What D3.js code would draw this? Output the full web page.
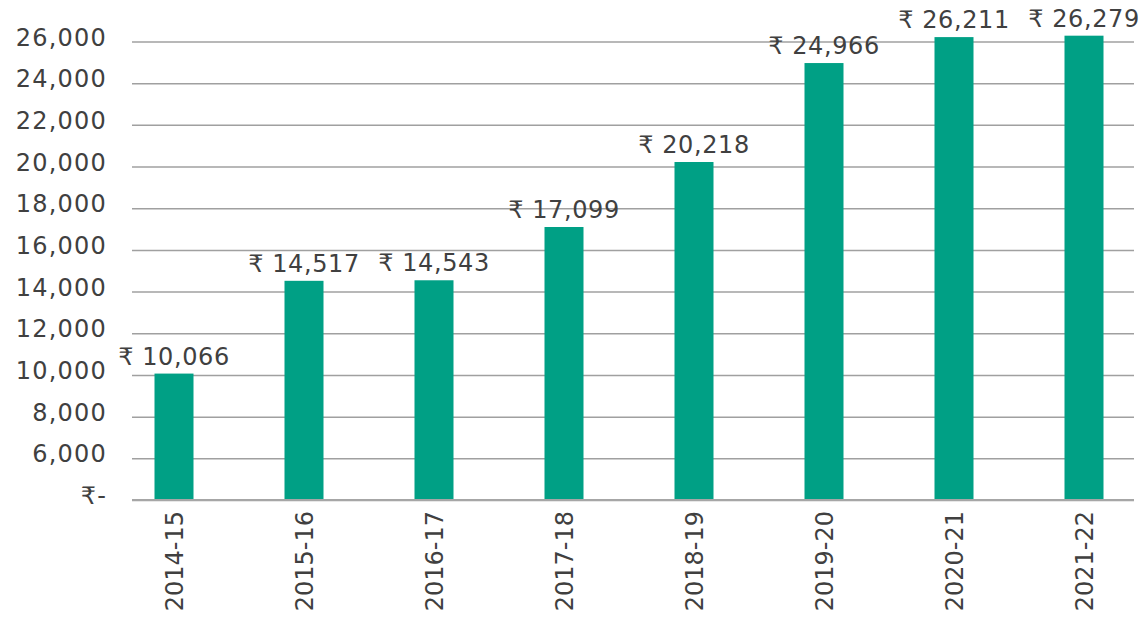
<!DOCTYPE html>
<html>
<head>
<meta charset="utf-8">
<script src="https://cdn.jsdelivr.net/npm/d3@7"></script>
<style>
  body { margin: 0; background: #fff; }
  text { font-family: "DejaVu Sans", "Noto Sans", sans-serif; fill: #404040; }
</style>
</head>
<body>
<svg></svg>
<script>
var years = ["2014-15", "2015-16", "2016-17", "2017-18", "2018-19", "2019-20", "2020-21", "2021-22"];
var amounts = [10066, 14517, 14543, 17099, 20218, 24966, 26211, 26279];
var yTicks = [4000, 6000, 8000, 10000, 12000, 14000, 16000, 18000, 20000, 22000, 24000, 26000];
var yTickLabels = ["₹-", "6,000", "8,000", "10,000", "12,000", "14,000", "16,000", "18,000", "20,000", "22,000", "24,000", "26,000"];

var svgWidth = 1147,
    svgHeight = 621,
    gridLeft = 132,
    gridRight = 1134;

var svg = d3.select("svg")
    .attr("width", svgWidth)
    .attr("height", svgHeight);

var xScale = d3.scaleBand()
    .domain(years)
    .range([109, 1149])
    .paddingInner(0.7)
    .paddingOuter(0.35);

var yScale = d3.scaleLinear()
    .domain([4000, 26000])
    .range([500, 41.5]);

// gridlines + y labels
var yAxis = svg.append("g")
    .attr("transform", "translate(" + gridLeft + ",0)")
    .call(d3.axisLeft(yScale)
        .tickValues(yTicks)
        .tickSize(-(gridRight - gridLeft))
        .tickPadding(25)
        .tickFormat(function (d, i) { return yTickLabels[i]; }));

yAxis.select(".domain").remove();
yAxis.selectAll(".tick line")
    .attr("stroke", "#a0a0a0")
    .attr("stroke-width", 1.5);
yAxis.selectAll(".tick text")
    .attr("fill", "#404040")
    .attr("font-size", 24)
    .attr("letter-spacing", 1.2)
    .attr("dy", "0.15em");

svg.selectAll("rect.bar")
    .data(amounts)
    .enter()
    .append("rect")
    .attr("class", "bar")
    .attr("x", function (d, i) { return xScale(years[i]); })
    .attr("width", xScale.bandwidth())
    .attr("y", function (d) { return yScale(d); })
    .attr("height", function (d) { return yScale(4000) - yScale(d); })
    .attr("fill", "#00a085");

// baseline over the bars
svg.append("line")
    .attr("x1", gridLeft)
    .attr("x2", gridRight)
    .attr("y1", yScale(4000))
    .attr("y2", yScale(4000))
    .attr("stroke", "#a6a6a6")
    .attr("stroke-width", 2);

svg.selectAll("text.value")
    .data(amounts)
    .enter()
    .append("text")
    .attr("class", "value")
    .attr("x", function (d, i) { return xScale(years[i]) + xScale.bandwidth() / 2; })
    .attr("y", function (d) { return yScale(d) - 9; })
    .attr("text-anchor", "middle")
    .attr("font-size", 24)
    .attr("letter-spacing", 0.6)
    .text(function (d) { return "₹ " + d3.format(",")(d); });

// x labels, rotated
svg.selectAll("text.year")
    .data(years)
    .enter()
    .append("text")
    .attr("class", "year")
    .attr("transform", function (d) {
        var x = xScale(d) + xScale.bandwidth() / 2;
        return "translate(" + x + "," + 511 + ") rotate(-90)";
    })
    .attr("text-anchor", "end")
    .attr("dy", "0.36em")
    .attr("font-size", 24)
    .text(function (d) { return d; });
</script>
</body>
</html>
